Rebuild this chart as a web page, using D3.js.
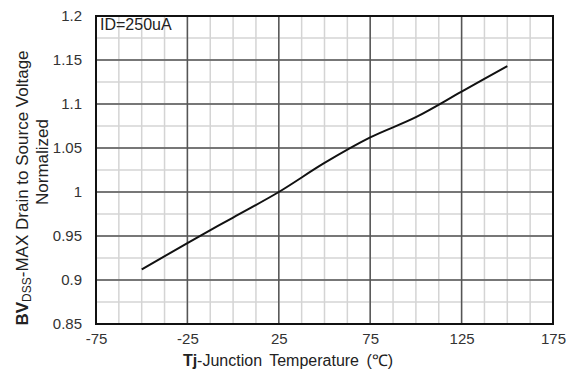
<!DOCTYPE html>
<html>
<head>
<meta charset="utf-8">
<script src="https://cdn.jsdelivr.net/npm/d3@7"></script>
<style>
  body { margin: 0; background: #fff; }
  svg text { font-family: "Liberation Sans", Arial, sans-serif; }
</style>
</head>
<body>
<svg id="chart" width="572" height="376"></svg>
<script>
// values
const temps = [-50, -25, 0, 25, 50, 75, 100, 125, 150];
const bvNorm = [0.912, 0.942, 0.971, 1.0, 1.033, 1.062, 1.085, 1.114, 1.143];

const xTicks = [-75, -25, 25, 75, 125, 175];
const yTicks = [0.85, 0.9, 0.95, 1, 1.05, 1.1, 1.15, 1.2];
const xMinor = d3.range(-75, 175.1, 12.5);
const yMinor = d3.range(0.85, 1.2001, 0.025);

const svg = d3.select("#chart");
const margin = {top: 16, right: 19, bottom: 52, left: 96};
const width = 572 - margin.left - margin.right,
      height = 376 - margin.top - margin.bottom;

const g = svg.append("g")
  .attr("transform", "translate(" + margin.left + "," + margin.top + ")");

const x = d3.scaleLinear().domain([-75, 175]).range([0, width]);
const y = d3.scaleLinear().domain([0.85, 1.2]).range([height, 0]);

// light grid
g.append("g").selectAll("line")
  .data(xMinor)
  .enter().append("line")
  .attr("x1", d => x(d)).attr("x2", d => x(d))
  .attr("y1", 0).attr("y2", height)
  .attr("stroke", "#d4d4d4").attr("stroke-width", 1.5);
g.append("g").selectAll("line")
  .data(yMinor)
  .enter().append("line")
  .attr("y1", d => y(d)).attr("y2", d => y(d))
  .attr("x1", 0).attr("x2", width)
  .attr("stroke", "#d4d4d4").attr("stroke-width", 1.5);

// dark grid
g.append("g").selectAll("line")
  .data(xTicks)
  .enter().append("line")
  .attr("x1", d => x(d)).attr("x2", d => x(d))
  .attr("y1", 0).attr("y2", height)
  .attr("stroke", "#555").attr("stroke-width", 1.5);
g.append("g").selectAll("line")
  .data(yTicks)
  .enter().append("line")
  .attr("y1", d => y(d)).attr("y2", d => y(d))
  .attr("x1", 0).attr("x2", width)
  .attr("stroke", "#555").attr("stroke-width", 1.5);

// frame
g.append("rect")
  .attr("width", width).attr("height", height)
  .attr("fill", "none").attr("stroke", "#111").attr("stroke-width", 2);

// axes (labels only)
const xAxis = g.append("g")
  .attr("transform", "translate(0," + height + ")")
  .call(d3.axisBottom(x).tickValues(xTicks).tickSize(0).tickPadding(9).tickFormat(d => String(d)));
const yAxis = g.append("g")
  .call(d3.axisLeft(y).tickValues(yTicks).tickSize(0).tickPadding(14).tickFormat(d => String(+d.toFixed(2))));
[xAxis, yAxis].forEach(a => {
  a.select(".domain").remove();
  a.selectAll("text")
    .attr("font-size", 15)
    .attr("font-family", "Liberation Sans, Arial, sans-serif")
    .attr("fill", "#333");
});

// curve
const line = d3.line()
  .x((d, i) => x(temps[i]))
  .y(d => y(d))
  .curve(d3.curveMonotoneX);
g.append("path")
  .datum(bvNorm)
  .attr("d", line)
  .attr("fill", "none")
  .attr("stroke", "#111")
  .attr("stroke-width", 2);

// annotation
g.append("text")
  .attr("x", 4).attr("y", 14)
  .attr("font-size", 16)
  .attr("fill", "#222")
  .text("ID=250uA");

// x title
const xt = svg.append("text")
  .attr("x", 288).attr("y", 366)
  .attr("text-anchor", "middle")
  .attr("font-size", 16)
  .attr("fill", "#222")
  .attr("word-spacing", 3);
xt.append("tspan").attr("font-weight", "bold").text("Tj");
xt.append("tspan").text("-Junction Temperature (℃)");

// y title
const yt = svg.append("text")
  .attr("transform", "translate(28,188) rotate(-90)")
  .attr("text-anchor", "middle")
  .attr("font-size", 17)
  .attr("fill", "#222");
yt.append("tspan").attr("font-weight", "bold").text("BV");
yt.append("tspan").attr("font-size", 12).attr("dy", 3).text("DSS");
yt.append("tspan").attr("dy", -3).text("-MAX Drain to Source Voltage");

svg.append("text")
  .attr("transform", "translate(48,162) rotate(-90)")
  .attr("text-anchor", "middle")
  .attr("font-size", 17)
  .attr("fill", "#222")
  .text("Normalized");
</script>
</body>
</html>
